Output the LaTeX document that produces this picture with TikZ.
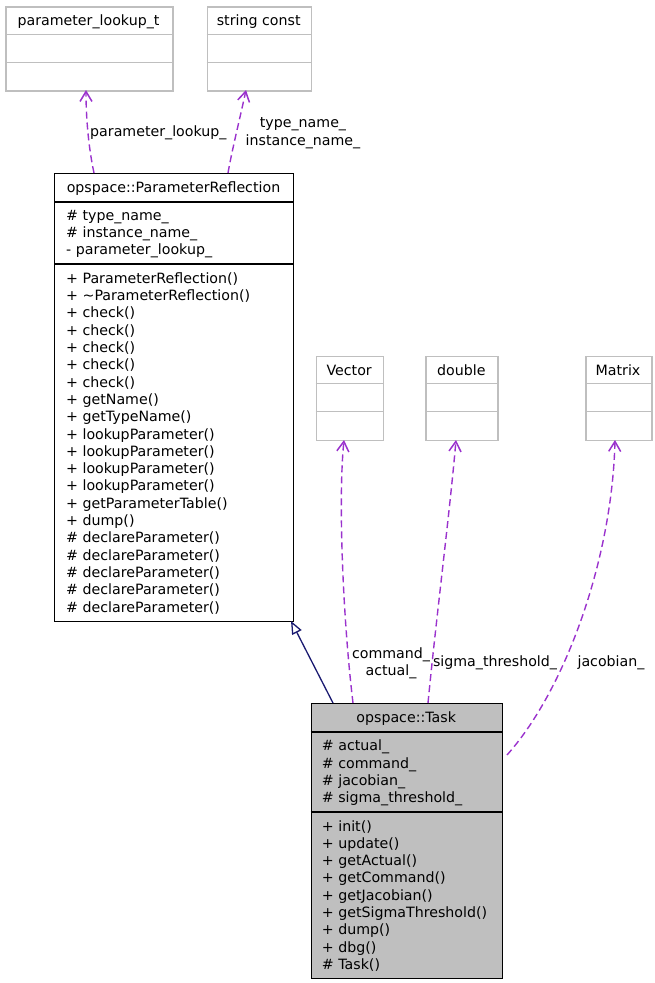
\documentclass[tikz,border=0pt]{standalone}
\usepackage{fontspec}
\setmainfont{DejaVu Sans}
\usetikzlibrary{arrows.meta}
\definecolor{edgepurple}{HTML}{9A32CD}
\definecolor{inhblue}{HTML}{191970}
\definecolor{boxgray}{HTML}{BFBFBF}
\definecolor{taskfill}{HTML}{BFBFBF}
\newcommand{\lstl}[1]{\begin{tabular}[t]{@{}l@{}}#1\end{tabular}}
\newcommand{\lstc}[1]{\begin{tabular}[t]{@{}c@{}}#1\end{tabular}}
\begin{document}
\begin{tikzpicture}[x=1pt,y=-1pt,
  font=\fontsize{14.2}{17.3}\selectfont,
  classbox/.style={draw=black, line width=1.4pt, inner sep=0pt, anchor=north west},
  graybox/.style={draw=boxgray, line width=1.5pt, inner sep=0pt, anchor=north west},
  blackline/.style={draw=black, line width=1.4pt},
  grayline/.style={draw=boxgray, line width=1.5pt},
  titletext/.style={anchor=base, inner sep=0pt},
  listtext/.style={anchor=base west, inner sep=0pt},
  edgelabel/.style={anchor=base, inner sep=0pt},
  member/.style={draw=edgepurple, line width=1.4pt, dash pattern=on 7pt off 4pt,
    -{Straight Barb[length=10pt,width=12pt,line width=1.5pt]}},
  inherit/.style={draw=inhblue, line width=1.3pt,
    -{Triangle[open,length=13pt,width=10.5pt,fill=white,line width=1.3pt]}}
]
\useasboundingbox (0,0) rectangle (654,983);

% ---------- small gray classes ----------
\node[graybox, minimum width=167pt, minimum height=84pt] (plt) at (5,6) {};
\draw[grayline] (plt.west |- 0,34.3) -- (plt.east |- 0,34.3);
\draw[grayline] (plt.west |- 0,62.3) -- (plt.east |- 0,62.3);
\node[titletext] (plttitle) at (88.5,25) {parameter\_lookup\_t};

\node[graybox, minimum width=104pt, minimum height=84pt] (sc) at (206.7,6) {};
\draw[grayline] (sc.west |- 0,34.3) -- (sc.east |- 0,34.3);
\draw[grayline] (sc.west |- 0,62.3) -- (sc.east |- 0,62.3);
\node[titletext] (sctitle) at (258.7,25) {string const};

\node[graybox, minimum width=67pt, minimum height=84pt] (vec) at (315.7,355.7) {};
\draw[grayline] (vec.west |- 0,383.7) -- (vec.east |- 0,383.7);
\draw[grayline] (vec.west |- 0,411.7) -- (vec.east |- 0,411.7);
\node[titletext] (vectitle) at (349.2,375.7) {Vector};

\node[graybox, minimum width=72pt, minimum height=84pt] (dbl) at (425.3,355.7) {};
\draw[grayline] (dbl.west |- 0,383.7) -- (dbl.east |- 0,383.7);
\draw[grayline] (dbl.west |- 0,411.7) -- (dbl.east |- 0,411.7);
\node[titletext] (dbltitle) at (461.3,375.7) {double};

\node[graybox, minimum width=66pt, minimum height=84pt] (mat) at (585,355.7) {};
\draw[grayline] (mat.west |- 0,383.7) -- (mat.east |- 0,383.7);
\draw[grayline] (mat.west |- 0,411.7) -- (mat.east |- 0,411.7);
\node[titletext] (mattitle) at (618,375.7) {Matrix};

% ---------- ParameterReflection ----------
\node[classbox, minimum width=239pt, minimum height=448pt] (pr) at (54,173) {};
\draw[blackline] (pr.west |- 0,202) -- (pr.east |- 0,202);
\draw[blackline] (pr.west |- 0,264) -- (pr.east |- 0,264);
\node[titletext] (prtitle) at (173.5,192) {opspace::ParameterReflection};
\node[listtext] (prattr) at (66,220) {\lstl{\# type\_name\_\\ \# instance\_name\_\\ - parameter\_lookup\_}};
\node[listtext] (prmeth) at (66,283.3) {\lstl{%
+ ParameterReflection()\\
+ \textasciitilde ParameterReflection()\\
+ check()\\
+ check()\\
+ check()\\
+ check()\\
+ check()\\
+ getName()\\
+ getTypeName()\\
+ lookupParameter()\\
+ lookupParameter()\\
+ lookupParameter()\\
+ lookupParameter()\\
+ getParameterTable()\\
+ dump()\\
\# declareParameter()\\
\# declareParameter()\\
\# declareParameter()\\
\# declareParameter()\\
\# declareParameter()}};

% ---------- Task ----------
\node[classbox, fill=taskfill, minimum width=191pt, minimum height=275pt] (task) at (310.7,703) {};
\draw[blackline] (task.west |- 0,732) -- (task.east |- 0,732);
\draw[blackline] (task.west |- 0,812) -- (task.east |- 0,812);
\node[titletext] (tasktitle) at (406.2,722.7) {opspace::Task};
\node[listtext] (taskattr) at (321.7,750.7) {\lstl{\# actual\_\\ \# command\_\\ \# jacobian\_\\ \# sigma\_threshold\_}};
\node[listtext] (taskmeth) at (321.7,831) {\lstl{%
+ init()\\
+ update()\\
+ getActual()\\
+ getCommand()\\
+ getJacobian()\\
+ getSigmaThreshold()\\
+ dump()\\
+ dbg()\\
\# Task()}};

% ---------- connector anchors ----------
\coordinate (prA) at (94,173);
\coordinate (pltB) at (86,90);
\coordinate (prB) at (228,173);
\coordinate (scB) at (246,90);
\coordinate (taskA) at (353,703);
\coordinate (vecB) at (344,440);
\coordinate (taskB) at (428,703);
\coordinate (dblB) at (456,440);
\coordinate (taskC) at (507,755);
\coordinate (matB) at (615,440);
\coordinate (taskD) at (333,703);
\coordinate (prC) at (291,621);

% ---------- connectors ----------
\draw[inherit] (taskD) -- (prC);
\draw[member] (prA) .. controls (88,145) and (86,115) .. (pltB);
\draw[member] (prB) .. controls (232,150) and (240,118) .. (scB);
\draw[member] (taskA) .. controls (343,620) and (338,500) .. (vecB);
\draw[member] (taskB) .. controls (436,620) and (450,510) .. (dblB);
\draw[member] (taskC) .. controls (565,690) and (612,560) .. (matB);

% ---------- connector labels ----------
\node[listtext] (lbl1) at (90,136) {parameter\_lookup\_};
\node[edgelabel] (lbl2) at (303,127.7) {\lstc{type\_name\_\\ instance\_name\_}};
\node[edgelabel] (lbl3) at (391,658.3) {\lstc{command\_\\ actual\_}};
\node[edgelabel] (lbl4) at (495,666) {sigma\_threshold\_};
\node[edgelabel] (lbl5) at (611,666) {jacobian\_};
\end{tikzpicture}
\end{document}
